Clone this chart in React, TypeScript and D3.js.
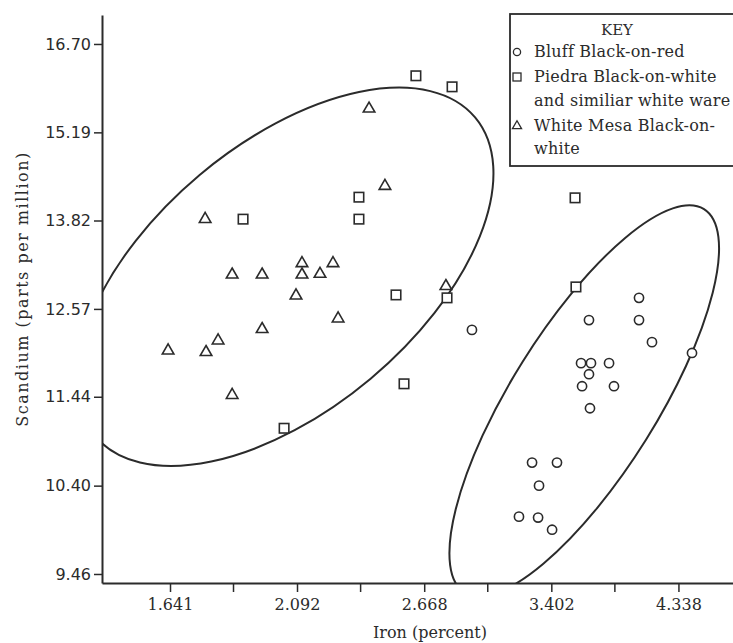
import React, { useEffect, useRef } from 'react';
import * as d3 from 'd3';

// Iron (percent), Scandium (ppm) pairs
const bluffBlackOnRed: [number, number][] = [
  [2.923, 12.29], [4.023, 12.72], [4.023, 12.42], [3.656, 12.42], [4.124, 12.13],
  [4.452, 11.99], [3.601, 11.86], [3.670, 11.86], [3.799, 11.86], [3.656, 11.72],
  [3.608, 11.57], [3.835, 11.57], [3.663, 11.30], [3.279, 10.66], [3.439, 10.66],
  [3.323, 10.40], [3.198, 10.06], [3.317, 10.05], [3.407, 9.92],
];

const piedraBlackOnWhite: [number, number][] = [
  [2.626, 16.14], [2.814, 15.95], [1.887, 13.84], [2.355, 14.17], [2.355, 13.84],
  [3.560, 14.16], [3.566, 12.87], [2.528, 12.76], [2.787, 12.72], [2.567, 11.60],
  [2.041, 11.06],
];

const whiteMesaBlackOnWhite: [number, number][] = [
  [1.635, 12.02], [1.755, 13.84], [1.758, 12.00], [1.799, 12.15], [1.848, 13.04],
  [1.848, 11.46], [1.957, 13.04], [1.957, 12.30], [2.088, 12.75], [2.112, 13.20],
  [2.112, 13.04], [2.186, 13.05], [2.241, 13.20], [2.263, 12.44], [2.401, 15.58],
  [2.475, 14.34], [2.781, 12.88],
];

// group ellipse centres (iron, scandium)
const groupCentres: [number, number][] = [[2.045, 13.01], [3.623, 11.39]];

const xTicks = [1.641, 2.092, 2.668, 3.402, 4.338];
const yTicks = [9.46, 10.40, 11.44, 12.57, 13.82, 15.19, 16.70];

const legendRows = [
  { symbol: 'circle', lines: ['Bluff Black-on-red'] },
  { symbol: 'square', lines: ['Piedra Black-on-white', 'and similiar white ware'] },
  { symbol: 'triangle', lines: ['White Mesa Black-on-', 'white'] },
];

const W = 733;
const H = 643;
const INK = '#2b2b2b';
const SERIF = '"DejaVu Serif", "Liberation Serif", serif';

export default function App() {
  const svgRef = useRef<SVGSVGElement>(null);

  useEffect(() => {
    const svg = d3.select(svgRef.current);
    svg.selectAll('*').remove();

    const left = 102, right = 733, top = 15, bottom = 583;

    const x = d3.scaleLog().domain([1.4409, 4.815]).range([left, right]);
    const y = d3.scaleLog().domain([9.369, 17.227]).range([bottom, top]);

    svg.append('rect').attr('width', W).attr('height', H).attr('fill', '#fff');

    const defs = svg.append('defs');
    defs.append('clipPath').attr('id', 'plotClip')
      .append('rect')
      .attr('x', left).attr('y', 0)
      .attr('width', right - left).attr('height', bottom);

    // group ellipses
    const shapes = [
      { rx: 248, ry: 133, angle: -40 },
      { rx: 226, ry: 73, angle: -58 },
    ];
    const eg = svg.append('g').attr('clip-path', 'url(#plotClip)');
    groupCentres.forEach((c, i) => {
      const cx = x(c[0]);
      const cy = y(c[1]);
      eg.append('ellipse')
        .attr('cx', cx).attr('cy', cy)
        .attr('rx', shapes[i].rx).attr('ry', shapes[i].ry)
        .attr('transform', `rotate(${shapes[i].angle} ${cx} ${cy})`)
        .attr('fill', 'none')
        .attr('stroke', INK)
        .attr('stroke-width', 2);
    });

    // x axis
    const minor = xTicks.slice(1).map((t, i) => Math.sqrt(t * xTicks[i]));
    const xAxis = svg.append('g').attr('transform', `translate(0,${bottom})`);
    xAxis.call(
      d3.axisBottom(x).tickValues(xTicks).tickFormat(d3.format('.3f')).tickSize(9).tickSizeOuter(0).tickPadding(7)
    );
    xAxis.append('g').selectAll('line').data(minor).join('line')
      .attr('x1', d => x(d)).attr('x2', d => x(d))
      .attr('y1', 0).attr('y2', 9)
      .attr('stroke', INK).attr('stroke-width', 1.5);
    xAxis.selectAll('text')
      .attr('fill', INK)
      .style('font-family', SERIF)
      .style('font-size', '16px');

    // y axis
    const yAxis = svg.append('g').attr('transform', `translate(${left},0)`);
    yAxis.call(
      d3.axisLeft(y).tickValues(yTicks).tickFormat(d3.format('.2f')).tickSize(8).tickSizeOuter(0).tickPadding(3)
    );
    yAxis.selectAll('text')
      .attr('fill', INK)
      .style('font-family', '"DejaVu Sans", Verdana, sans-serif')
      .style('font-size', '16px');

    svg.selectAll('.domain').attr('stroke', INK).attr('stroke-width', 2);
    svg.selectAll('.tick line').attr('stroke', INK).attr('stroke-width', 1.5);

    // axis titles
    svg.append('text')
      .attr('x', 430).attr('y', 638)
      .attr('text-anchor', 'middle')
      .attr('fill', INK)
      .style('font-family', SERIF)
      .style('font-size', '16px')
      .text('Iron (percent)');

    svg.append('text')
      .attr('transform', `translate(28,${(top + bottom) / 2 - 10}) rotate(-90)`)
      .attr('text-anchor', 'middle')
      .attr('fill', INK)
      .style('font-family', SERIF)
      .style('font-size', '16px')
      .style('letter-spacing', '1.5px')
      .text('Scandium (parts per million)');

    // points
    const pts = svg.append('g')
      .attr('fill', '#fff')
      .attr('stroke', INK)
      .attr('stroke-width', 1.6);

    pts.selectAll('circle.bluff').data(bluffBlackOnRed).join('circle')
      .attr('class', 'bluff')
      .attr('cx', d => x(d[0])).attr('cy', d => y(d[1]))
      .attr('r', 4.6);

    const sq = 9.5;
    pts.selectAll('rect.piedra').data(piedraBlackOnWhite).join('rect')
      .attr('class', 'piedra')
      .attr('x', d => x(d[0]) - sq / 2).attr('y', d => y(d[1]) - sq / 2)
      .attr('width', sq).attr('height', sq);

    const tri = d3.symbol(d3.symbolTriangle, 58);
    pts.selectAll('path.mesa').data(whiteMesaBlackOnWhite).join('path')
      .attr('class', 'mesa')
      .attr('transform', d => `translate(${x(d[0])},${y(d[1])})`)
      .attr('d', tri() as string);

    // legend
    const lg = svg.append('g');
    lg.append('rect')
      .attr('x', 510).attr('y', 14)
      .attr('width', 260).attr('height', 152)
      .attr('fill', '#fff')
      .attr('stroke', INK)
      .attr('stroke-width', 1.8);

    lg.append('text')
      .attr('x', 617).attr('y', 35)
      .attr('text-anchor', 'middle')
      .attr('fill', INK)
      .style('font-family', SERIF)
      .style('font-size', '15px')
      .text('KEY');

    const rowY = [[57], [82, 106], [131, 154]];
    legendRows.forEach((row, i) => {
      const sy = rowY[i][0] - 5;
      if (row.symbol === 'circle') {
        lg.append('circle').attr('cx', 517).attr('cy', sy).attr('r', 3.6)
          .attr('fill', 'none').attr('stroke', INK).attr('stroke-width', 1.3);
      } else if (row.symbol === 'square') {
        lg.append('rect').attr('x', 513).attr('y', sy - 4).attr('width', 8).attr('height', 8)
          .attr('fill', 'none').attr('stroke', INK).attr('stroke-width', 1.3);
      } else {
        lg.append('path').attr('transform', `translate(517,${sy})`)
          .attr('d', d3.symbol(d3.symbolTriangle, 36)() as string)
          .attr('fill', 'none').attr('stroke', INK).attr('stroke-width', 1.3);
      }
      row.lines.forEach((ln, j) => {
        lg.append('text')
          .attr('x', 534).attr('y', rowY[i][j])
          .attr('fill', INK)
          .style('font-family', SERIF)
          .style('font-size', '16px')
          .style('letter-spacing', '0.2px')
          .text(ln);
      });
    });
  }, []);

  return (
    <svg
      ref={svgRef}
      width={W}
      height={H}
      style={{ position: 'absolute', left: 0, top: 0 }}
    />
  );
}
